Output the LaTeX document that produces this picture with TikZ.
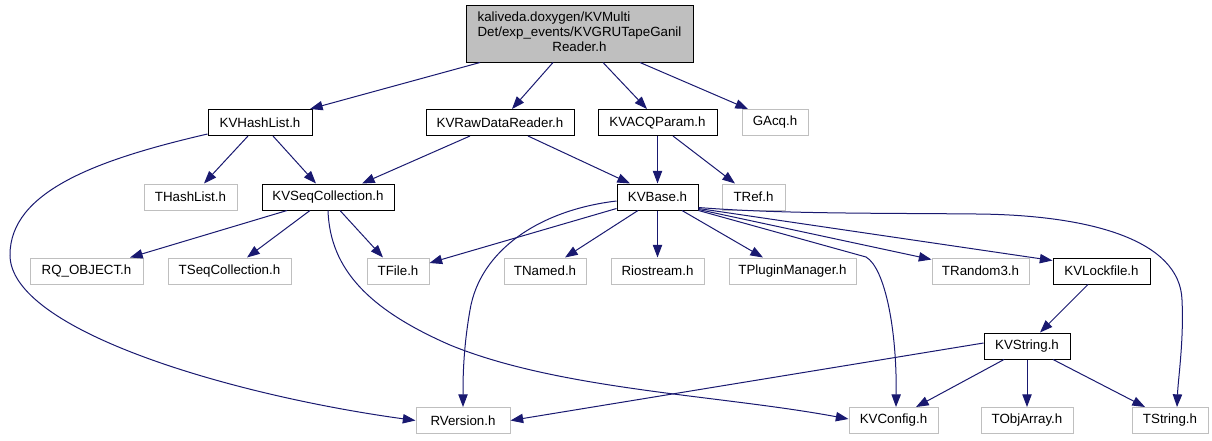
\documentclass[tikz,border=0pt]{standalone}
\usepackage{fontspec}
\setmainfont{Liberation Sans}
\usetikzlibrary{arrows.meta}
\definecolor{edgec}{HTML}{191970}
\definecolor{greyb}{HTML}{BFBFBF}
\begin{document}
\begin{tikzpicture}[x=0.75pt,y=-0.75pt,
  base/.style={draw, rectangle, inner sep=0pt, minimum height=19.5pt,
    font=\fontsize{10}{11.5}\selectfont, line width=0.75pt},
  doc/.style={base, draw=black},
  ext/.style={base, draw=greyb},
  wd/.style={minimum width=#1*0.75pt},
  dep/.style={draw=edgec, line width=0.75pt, -{Triangle[length=9.5pt,width=7pt]}}
]
\useasboundingbox (0,0) rectangle (1212,440);
% root
\node[base, draw=black, fill=greyb, wd=227, minimum height=42.75pt] (root) at (579.5,33.5)
  {\begin{tabular}{@{}l@{}}kaliveda.doxygen/KVMulti\\Det/exp\_events/KVGRUTapeGanil\\\multicolumn{1}{@{}c@{}}{Reader.h}\end{tabular}};
% row 1
\node[doc, wd=104] (hl)   at (260,122.5)   {KVHashList.h};
\node[doc, wd=148] (rd)   at (500,122.5)   {KVRawDataReader.h};
\node[doc, wd=119] (acq)  at (657.5,122.5) {KVACQParam.h};
\node[ext, wd=66]  (gacq) at (775,122.5)   {GAcq.h};
% row 2
\node[ext, wd=93]  (thl)  at (190.5,197)   {THashList.h};
\node[doc, wd=132] (sc)   at (328,197)     {KVSeqCollection.h};
\node[doc, wd=81]  (kb)   at (657.5,197)   {KVBase.h};
\node[ext, wd=63]  (tref) at (753.5,197)   {TRef.h};
% row 3
\node[ext, wd=113] (rq)   at (86.5,271)    {RQ\_OBJECT.h};
\node[ext, wd=123] (tsc)  at (229.5,271)   {TSeqCollection.h};
\node[ext, wd=62]  (tf)   at (398,271)     {TFile.h};
\node[ext, wd=82]  (tn)   at (545,271)     {TNamed.h};
\node[ext, wd=93]  (rio)  at (657.5,271)   {Riostream.h};
\node[ext, wd=127] (tpm)  at (792.5,271)   {TPluginManager.h};
\node[ext, wd=97]  (tr3)  at (980.5,271)   {TRandom3.h};
\node[doc, wd=97]  (lf)   at (1101.5,271)  {KVLockfile.h};
% row 4
\node[doc, wd=86]  (kvs)  at (1027,346)    {KVString.h};
% row 5
\node[ext, wd=94]  (rv)   at (463,420.5)   {RVersion.h};
\node[ext, wd=89]  (cfg)  at (893.5,420.5) {KVConfig.h};
\node[ext, wd=92]  (toa)  at (1027,420.5)  {TObjArray.h};
\node[ext, wd=76]  (ts)   at (1170,420.5)  {TString.h};
% edges from root
\draw[dep] ([shift={(-99.5,0)}]root.south) -- ([shift={(50,0)}]hl.north);
\draw[dep] ([shift={(-26.5,0)}]root.south) -- ([shift={(12,0)}]rd.north);
\draw[dep] ([shift={(23.5,0)}]root.south) -- ([shift={(-10.5,0)}]acq.north);
\draw[dep] ([shift={(60.5,0)}]root.south) -- ([shift={(-27,0)}]gacq.north);
% KVHashList
\draw[dep] ([shift={(-12,0)}]hl.south) -- ([shift={(13.5,0)}]thl.north);
\draw[dep] ([shift={(13,0)}]hl.south) -- ([shift={(-12,0)}]sc.north);
\draw[dep] ([shift={(0,-2)}]hl.south west) .. controls (95,160) and (10,192) .. (10,255)
  .. controls (10,330) and (230,395) .. (rv.west);
% KVRawDataReader
\draw[dep] ([shift={(-30,0)}]rd.south) -- ([shift={(34,0)}]sc.north);
\draw[dep] ([shift={(28,0)}]rd.south) -- ([shift={(-27.5,0)}]kb.north);
% KVACQParam
\draw[dep] (acq.south) -- (kb.north);
\draw[dep] ([shift={(15.5,0)}]acq.south) -- ([shift={(-18.5,0)}]tref.north);
% KVSeqCollection
\draw[dep] ([shift={(-41,0)}]sc.south) -- ([shift={(43.5,0)}]rq.north);
\draw[dep] ([shift={(-18,0)}]sc.south) -- ([shift={(17.5,0)}]tsc.north);
\draw[dep] ([shift={(12,0)}]sc.south) -- ([shift={(-15,0)}]tf.north);
\draw[dep] (sc.south) .. controls (330,270) and (370,310) .. (450,345)
  .. controls (560,390) and (720,395) .. ([shift={(0,-1.5)}]cfg.west);
% KVBase
\draw[dep] ([shift={(0,-2)}]kb.south west) -- ([shift={(0,-8)}]tf.east);
\draw[dep] ([shift={(0,4)}]kb.west) .. controls (540,210) and (480,250) .. (470,310)
  .. controls (463,350) and (463,380) .. (rv.north);
\draw[dep] ([shift={(-19.5,0)}]kb.south) -- ([shift={(20,0)}]tn.north);
\draw[dep] (kb.south) -- (rio.north);
\draw[dep] ([shift={(24.5,0)}]kb.south) -- ([shift={(-29.5,0)}]tpm.north);
\draw[dep] ([shift={(0,-1)}]kb.south east) -- ([shift={(0,2)}]tr3.north west);
\draw[dep] ([shift={(0,-2)}]kb.south east) -- ([shift={(0,3)}]lf.north west);
\draw[dep] (kb.south east) -- (866,257) .. controls (885,268) and (897,330) .. ([shift={(2.5,0)}]cfg.north);
\draw[dep] ([shift={(0,-3)}]kb.south east) .. controls (780,214) and (880,213) .. (977,214)
  .. controls (1090,215) and (1180,240) .. (1182,300)
  .. controls (1184,340) and (1178,380) .. ([shift={(7,0)}]ts.north);
% KVLockfile
\draw[dep] ([shift={(-13.5,0)}]lf.south) -- ([shift={(13,0)}]kvs.north);
% KVString
\draw[dep] ([shift={(0,-3)}]kvs.west) -- (rv.east);
\draw[dep] ([shift={(-23,0)}]kvs.south) -- ([shift={(22.5,0)}]cfg.north);
\draw[dep] (kvs.south) -- (toa.north);
\draw[dep] ([shift={(26,0)}]kvs.south) -- ([shift={(-25,0)}]ts.north);
\end{tikzpicture}
\end{document}
